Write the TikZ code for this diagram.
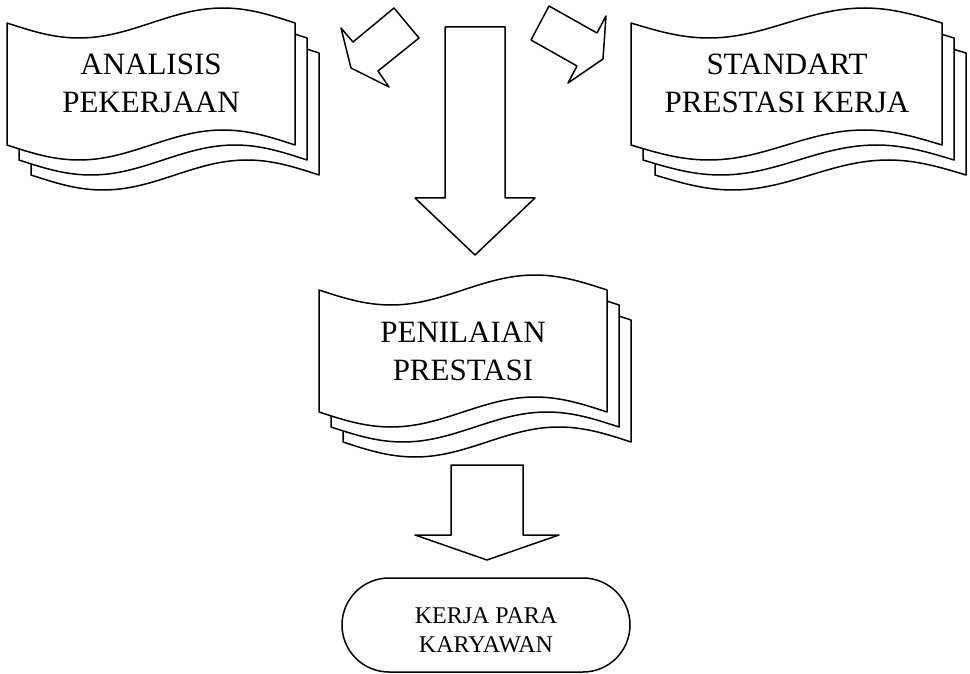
\documentclass[tikz,border=0pt]{standalone}
\usepackage{fontspec}
\setmainfont{Liberation Serif}
\usetikzlibrary{shapes.misc}
\tikzset{
  outline/.style={draw=black, fill=white, line width=1.5pt, line join=round},
  doctext/.style={align=center, font=\fontsize{31}{38}\selectfont, inner sep=0pt},
  termbox/.style={outline, rounded rectangle, minimum width=288pt, minimum height=94pt, inner sep=0pt},
  termtext/.style={align=center, font=\fontsize{24}{29}\selectfont, inner sep=0pt},
}
% one punched-tape page: x y w h amplitude (y grows downward)
\newcommand{\tapepage}[5]{%
  \filldraw[outline] ({#1},{#2})
    sin ({#1+#3/4},{#2+#5}) cos ({#1+#3/2},{#2}) sin ({#1+3*#3/4},{#2-#5}) cos ({#1+#3},{#2})
    -- ({#1+#3},{#2+#4})
    sin ({#1+3*#3/4},{#2+#4-#5}) cos ({#1+#3/2},{#2+#4}) sin ({#1+#3/4},{#2+#4+#5}) cos ({#1},{#2+#4})
    -- cycle;}
\newcommand{\tapestack}[4]{%
  \tapepage{#1+24}{#2+30}{#3}{#4}{15}%
  \tapepage{#1+12}{#2+15}{#3}{#4}{15}%
  \tapepage{#1}{#2}{#3}{#4}{15}}
\begin{document}
\begin{tikzpicture}[x=1pt, y=-1pt]
\useasboundingbox (0,0) rectangle (970,674);
% documents
\tapestack{7}{23}{288}{122}
\tapestack{631}{23}{311}{122}
\tapestack{319}{290}{288}{122}
\node[doctext] (analisis) at (151,83) {ANALISIS\\PEKERJAAN};
\node[doctext] (standart) at (787,83) {STANDART\\PRESTASI KERJA};
\node[doctext] (penilaian) at (463,351) {PENILAIAN\\PRESTASI};
% terminal
\node[termbox] (kerja) at (486,625) {};
\node[termtext] (kerjatext) at (486,630) {KERJA PARA\\KARYAWAN};
% tilted block arrows
\draw[outline] (394,8) -- (419,38) -- (378,71) -- (389,87) -- (351,68) -- (341,28) -- (353,42) -- cycle;
\draw[outline] (549,6) -- (597,33) -- (606,16) -- (603,59) -- (568,83) -- (577,66) -- (531,40) -- cycle;
% big down arrow
\draw[outline] (445,27) -- (505,27) -- (505,198) -- (535,198) -- (475,255) -- (415,198) -- (445,198) -- cycle;
% small down arrow
\draw[outline] (451,465) -- (523,465) -- (523,535) -- (559,535) -- (487,560) -- (415,535) -- (451,535) -- cycle;
\end{tikzpicture}
\end{document}
